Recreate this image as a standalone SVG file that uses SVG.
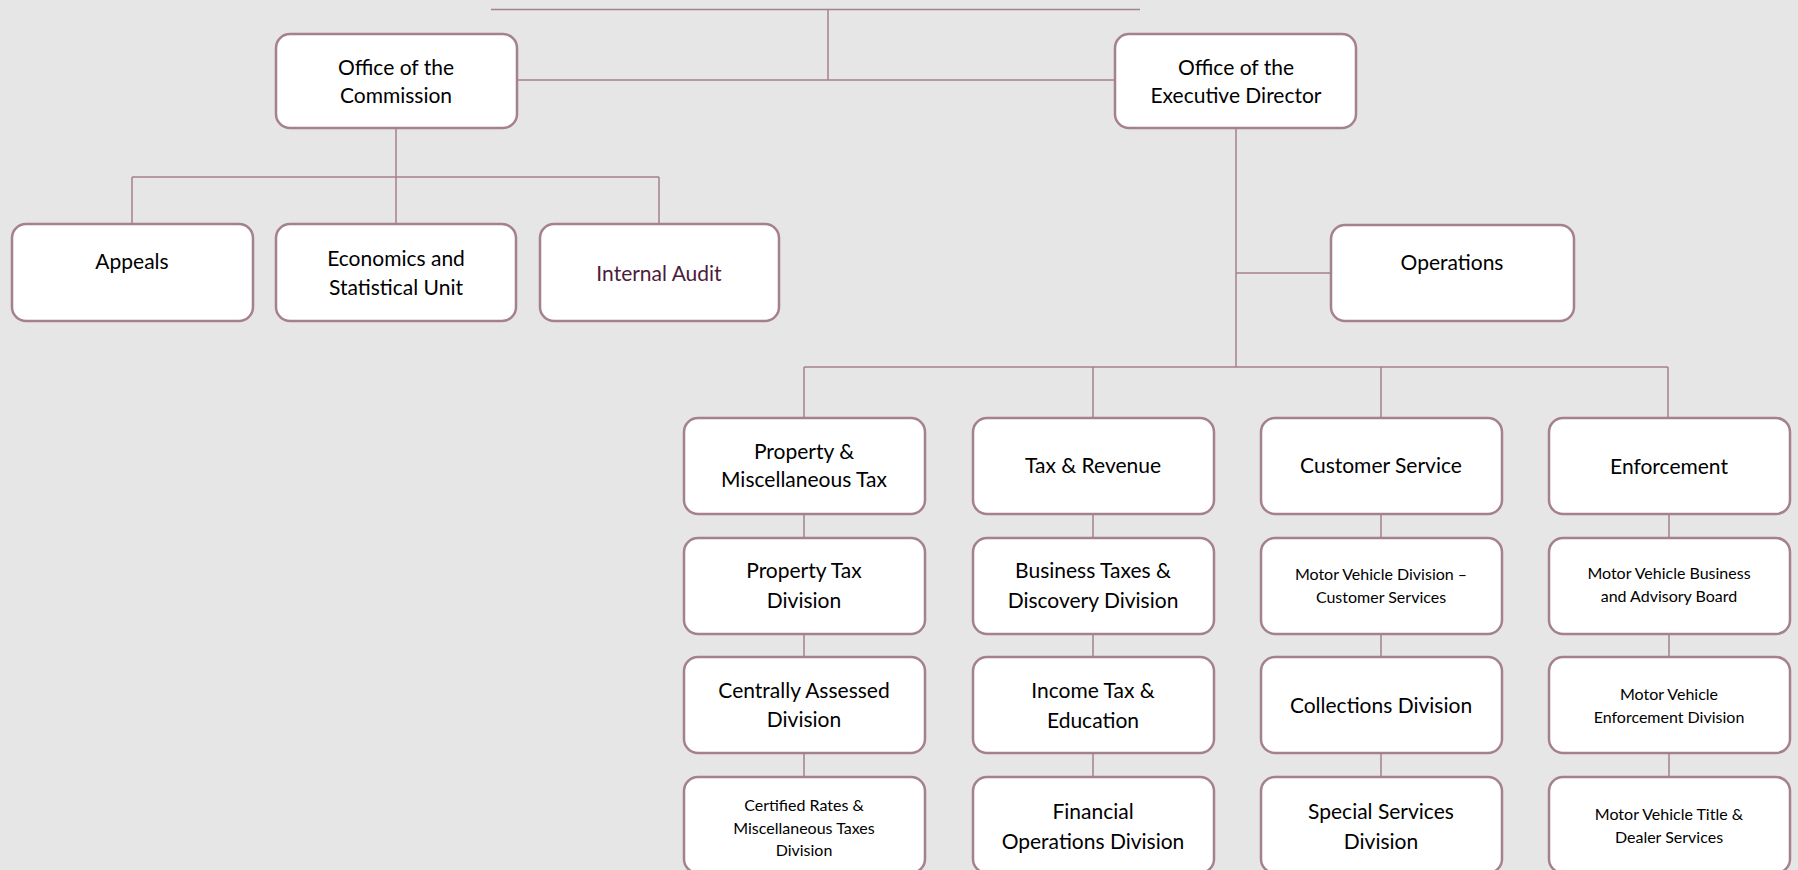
<svg xmlns="http://www.w3.org/2000/svg" width="1798" height="870" viewBox="0 0 1798 870">
<style>
.b{fill:#ffffff;stroke:#a5808f;stroke-width:2.5}
.c{stroke:#a5808f;stroke-width:1.5;fill:none}
text{font-family:Lato,"Open Sans","Liberation Sans",sans-serif;fill:#000;text-anchor:middle;dominant-baseline:central}
.l{font-size:21px}
.s{font-size:16px}
.ia{fill:#4b1c3c}
</style>
<rect width="1798" height="870" fill="#e6e6e6"/>
<g id="connectors">
<path class="c" d="M491 9.5H1140M828 9.5V80M517 80H1115"/>
<path class="c" d="M396 128V177M132 177H659M132 177V224M396 177V224M659 177V224"/>
<path class="c" d="M1236 128V367M1236 273H1331M804 367H1668M804 367V417M1093 367V417M1381 367V417M1668 367V417"/>
<path class="c" d="M804 514V538M804 634V657M804 753V777M1093 514V538M1093 634V657M1093 753V777M1381 514V538M1381 634V657M1381 753V777M1669 514V538M1669 634V657M1669 753V777"/>
</g>
<g id="commission"><rect class="b" x="276" y="34" width="241" height="94" rx="14"/><text class="l" x="396" y="66">Office of the</text><text class="l" x="396" y="94">Commission</text></g>
<g id="exec"><rect class="b" x="1115" y="34" width="241" height="94" rx="14"/><text class="l" x="1236" y="66">Office of the</text><text class="l" x="1236" y="94">Executive Director</text></g>
<g id="appeals"><rect class="b" x="12" y="224" width="241" height="97" rx="14"/><text class="l" x="132" y="260">Appeals</text></g>
<g id="economics"><rect class="b" x="276" y="224" width="240" height="97" rx="14"/><text class="l" x="396" y="257">Economics and</text><text class="l" x="396" y="286">Statistical Unit</text></g>
<g id="audit"><rect class="b" x="540" y="224" width="239" height="97" rx="14"/><text class="l ia" x="659" y="272">Internal Audit</text></g>
<g id="operations"><rect class="b" x="1331" y="225" width="243" height="96" rx="14"/><text class="l" x="1452" y="261">Operations</text></g>
<g id="propmisc"><rect class="b" x="684" y="418" width="241" height="96" rx="14"/><text class="l" x="804" y="450">Property &amp;</text><text class="l" x="804" y="478">Miscellaneous Tax</text></g>
<g id="taxrev"><rect class="b" x="973" y="418" width="241" height="96" rx="14"/><text class="l" x="1093" y="464">Tax &amp; Revenue</text></g>
<g id="custsvc"><rect class="b" x="1261" y="418" width="241" height="96" rx="14"/><text class="l" x="1381" y="464">Customer Service</text></g>
<g id="enforce"><rect class="b" x="1549" y="418" width="241" height="96" rx="14"/><text class="l" x="1669" y="465">Enforcement</text></g>
<g id="proptax"><rect class="b" x="684" y="538" width="241" height="96" rx="14"/><text class="l" x="804" y="569">Property Tax</text><text class="l" x="804" y="599">Division</text></g>
<g id="business"><rect class="b" x="973" y="538" width="241" height="96" rx="14"/><text class="l" x="1093" y="569">Business Taxes &amp;</text><text class="l" x="1093" y="599">Discovery Division</text></g>
<g id="mvdcs"><rect class="b" x="1261" y="538" width="241" height="96" rx="14"/><text class="s" x="1381" y="573">Motor Vehicle Division –</text><text class="s" x="1381" y="596">Customer Services</text></g>
<g id="mvbab"><rect class="b" x="1549" y="538" width="241" height="96" rx="14"/><text class="s" x="1669" y="572">Motor Vehicle Business</text><text class="s" x="1669" y="595">and Advisory Board</text></g>
<g id="central"><rect class="b" x="684" y="657" width="241" height="96" rx="14"/><text class="l" x="804" y="689">Centrally Assessed</text><text class="l" x="804" y="718">Division</text></g>
<g id="income"><rect class="b" x="973" y="657" width="241" height="96" rx="14"/><text class="l" x="1093" y="689">Income Tax &amp;</text><text class="l" x="1093" y="719">Education</text></g>
<g id="collections"><rect class="b" x="1261" y="657" width="241" height="96" rx="14"/><text class="l" x="1381" y="704">Collections Division</text></g>
<g id="mved"><rect class="b" x="1549" y="657" width="241" height="96" rx="14"/><text class="s" x="1669" y="693">Motor Vehicle</text><text class="s" x="1669" y="716">Enforcement Division</text></g>
<g id="certified"><rect class="b" x="684" y="777" width="241" height="96" rx="14"/><text class="s" x="804" y="804">Certified Rates &amp;</text><text class="s" x="804" y="827">Miscellaneous Taxes</text><text class="s" x="804" y="849">Division</text></g>
<g id="financial"><rect class="b" x="973" y="777" width="241" height="96" rx="14"/><text class="l" x="1093" y="810">Financial</text><text class="l" x="1093" y="840">Operations Division</text></g>
<g id="special"><rect class="b" x="1261" y="777" width="241" height="96" rx="14"/><text class="l" x="1381" y="810">Special Services</text><text class="l" x="1381" y="840">Division</text></g>
<g id="mvtitle"><rect class="b" x="1549" y="777" width="241" height="96" rx="14"/><text class="s" x="1669" y="813">Motor Vehicle Title &amp;</text><text class="s" x="1669" y="836">Dealer Services</text></g>
</svg>
